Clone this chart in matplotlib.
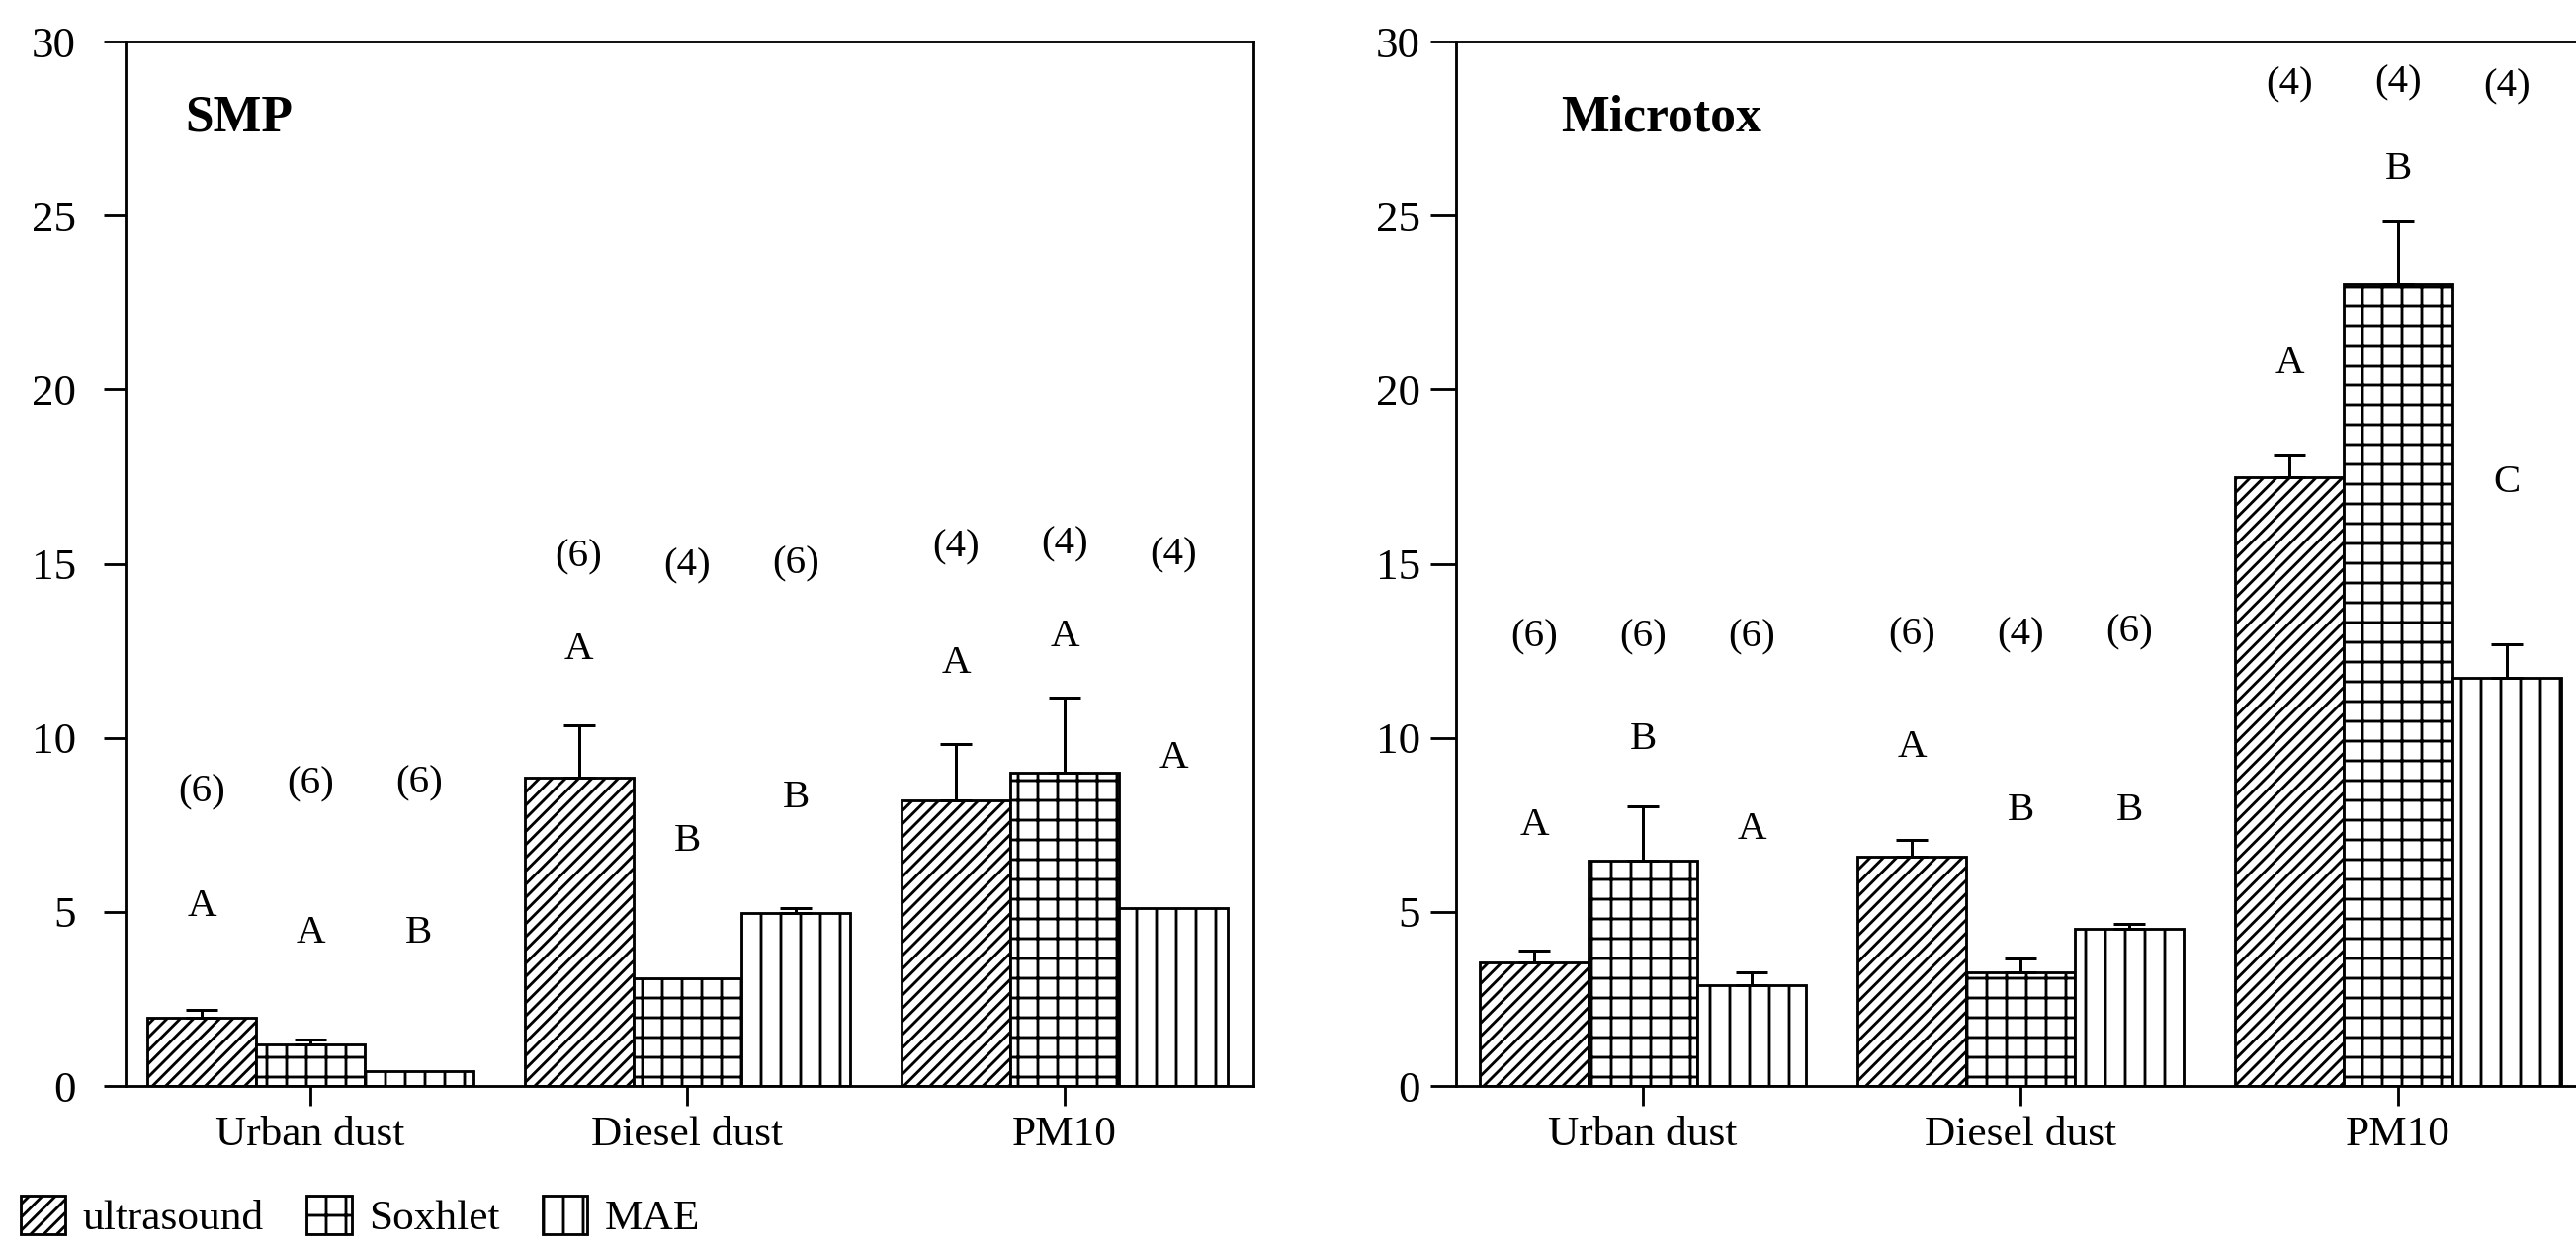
import numpy as np
import matplotlib.pyplot as plt
from matplotlib.patches import Patch

plt.rcParams["font.family"] = ["Liberation Serif", "DejaVu Serif"]
plt.rcParams["hatch.linewidth"] = 1.7

categories = ["Urban dust", "Diesel dust", "PM10"]
methods = ["ultrasound", "Soxhlet", "MAE"]

# rows: ultrasound, Soxhlet, MAE ; columns: Urban dust, Diesel dust, PM10
smp_vals = [[1.96, 8.85, 8.2], [1.19, 3.1, 9.0], [0.44, 4.98, 5.1]]
smp_errs = [[0.23, 1.5, 1.63], [0.14, 0.0, 2.15], [0.0, 0.12, 0.0]]
smp_n = [["(6)", "(6)", "(4)"], ["(6)", "(4)", "(4)"], ["(6)", "(6)", "(4)"]]
smp_n_y = [[8.44, 15.2, 15.46], [8.65, 14.94, 15.56], [8.69, 14.98, 15.25]]
smp_let = [["A", "A", "A"], ["A", "B", "A"], ["B", "B", "A"]]
smp_let_y = [[5.15, 12.54, 12.13], [4.38, 7.02, 12.9], [4.38, 8.27, 9.42]]

mtx_vals = [[3.54, 6.58, 17.48], [6.48, 3.27, 23.06], [2.9, 4.52, 11.71]]
mtx_errs = [[0.34, 0.48, 0.65], [1.54, 0.38, 1.77], [0.37, 0.13, 0.98]]
mtx_n = [["(6)", "(6)", "(4)"], ["(6)", "(4)", "(4)"], ["(6)", "(6)", "(4)"]]
mtx_n_y = [[12.9, 12.96, 28.75], [12.9, 12.96, 28.8], [12.9, 13.02, 28.7]]
mtx_let = [["A", "A", "A"], ["B", "B", "B"], ["A", "B", "C"]]
mtx_let_y = [[7.48, 9.73, 20.77], [9.94, 7.9, 26.33], [7.38, 7.9, 17.33]]

hatches = ["///", "+", "|"]
width = 0.288
DPI = 120


def panel(ax, vals, errs, ns, ny, lets, ly, title, title_x, xmin, lab_pad, tick_len):
    x = np.arange(len(categories))
    for i in range(3):
        xi = x + (i - 1) * width
        ax.bar(xi, vals[i], width, color="white", edgecolor="black",
               hatch=hatches[i], linewidth=1.7, zorder=2)
        e = np.array(errs[i])
        v = np.array(vals[i])
        m = e > 0
        ax.errorbar(xi[m], v[m], yerr=[np.zeros(m.sum()), e[m]], fmt="none",
                    ecolor="black", elinewidth=1.8, capsize=9.6, capthick=1.8, zorder=3)
        for j in range(3):
            ax.text(xi[j], ny[i][j], ns[i][j], ha="center", va="center", fontsize=24.5)
            ax.text(xi[j], ly[i][j], lets[i][j], ha="center", va="center", fontsize=24.5)
    ax.set_xlim(xmin, 2.5)
    ax.set_ylim(0, 30)
    ax.set_yticks(range(0, 31, 5))
    ax.set_xticks(x, categories)
    for s in ax.spines.values():
        s.set_linewidth(1.7)
    ax.tick_params(axis="y", direction="out", length=tick_len, width=1.7,
                   labelsize=27, pad=lab_pad)
    ax.tick_params(axis="x", direction="out", length=11.7, width=1.7,
                   labelsize=26, pad=6.7)
    ax.text(title_x, 27.8 / 30, title, transform=ax.transAxes, ha="left",
            va="center", fontsize=31, fontweight="bold")


fig = plt.figure(figsize=(2606 / DPI, 1263 / DPI), dpi=DPI)
ax1 = fig.add_axes([0.0487, 0.1298, 0.4378, 0.8369])
ax2 = fig.add_axes([0.5652, 0.1298, 0.439, 0.8369])

panel(ax1, smp_vals, smp_errs, smp_n, smp_n_y, smp_let, smp_let_y,
      "SMP", 0.053, -0.49, 16.7, 13.3)
panel(ax2, mtx_vals, mtx_errs, mtx_n, mtx_n_y, mtx_let, mtx_let_y,
      "Microtox", 0.093, -0.495, 5.8, 15.8)

handles = [Patch(facecolor="white", edgecolor="black", hatch=h, label=m, linewidth=1.7)
           for h, m in zip(hatches, methods)]
fig.legend(handles=handles, loc="center left", bbox_to_anchor=(0.008, 0.025),
           ncol=3, frameon=False, fontsize=26, handlelength=1.05, handleheight=1.0,
           handletextpad=0.4, columnspacing=1.0, borderpad=0, borderaxespad=0)

fig.savefig("out.png", dpi=DPI)
